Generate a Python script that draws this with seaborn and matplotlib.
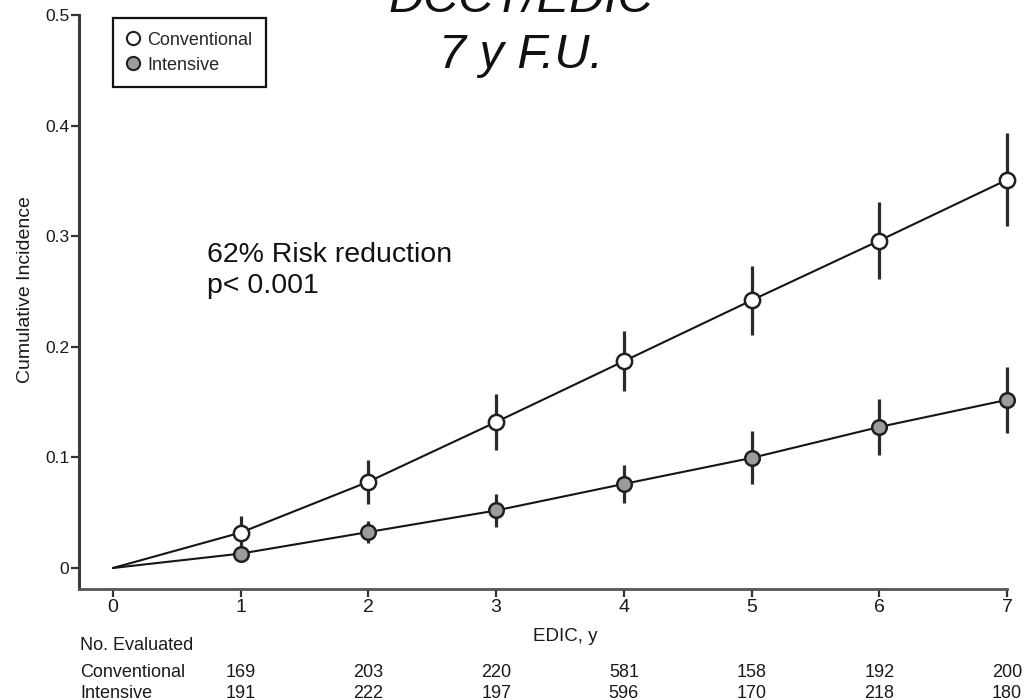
import matplotlib
matplotlib.use("Agg")
import matplotlib.pyplot as plt
import matplotlib.transforms as mtransforms
from matplotlib.lines import Line2D
import pandas as pd
import seaborn as sns

# Cumulative incidence by EDIC year (with +/- error half-widths)
years = [0, 1, 2, 3, 4, 5, 6, 7]
conv_inc = [0.0, 0.032, 0.078, 0.132, 0.187, 0.242, 0.296, 0.351]
conv_err = [0.0, 0.015, 0.020, 0.025, 0.027, 0.031, 0.035, 0.042]
int_inc = [0.0, 0.013, 0.0325, 0.052, 0.076, 0.0995, 0.1275, 0.152]
int_err = [0.0, 0.005, 0.010, 0.015, 0.017, 0.024, 0.025, 0.030]
groups = ["Conventional", "Intensive"]

# Number evaluated at each follow-up year
n_conv = [169, 203, 220, 581, 158, 192, 200]
n_int = [191, 222, 197, 596, 170, 218, 180]

y_ticks = [0, 0.1, 0.2, 0.3, 0.4, 0.5]
y_ticklabels = ["0", "0.1", "0.2", "0.3", "0.4", "0.5"]
x_ticks = [0, 1, 2, 3, 4, 5, 6, 7]

sns.set_style("ticks")
plt.rcParams["font.family"] = ["Liberation Sans", "DejaVu Sans"]

W, H = 1028, 700
fig = plt.figure(figsize=(W / 100, H / 100), dpi=100)
ax = fig.add_axes([79 / W, 1 - 589 / H, (1007 - 79) / W, (589 - 15) / H])

df = pd.DataFrame({
    "year": years * 2,
    "incidence": conv_inc + int_inc,
    "group": [groups[0]] * len(years) + [groups[1]] * len(years),
})
sns.lineplot(data=df, x="year", y="incidence", hue="group",
             palette={groups[0]: "#151515", groups[1]: "#151515"},
             linewidth=1.5, legend=False, ax=ax, clip_on=False, zorder=2)

ink = "#202020"
for inc, err in ((conv_inc, conv_err), (int_inc, int_err)):
    ax.errorbar(years[1:], inc[1:], yerr=err[1:], fmt="none", ecolor="#2a2a2a",
                elinewidth=2.3, capsize=0, clip_on=False, zorder=3)

ax.plot(years[1:], conv_inc[1:], ls="none", marker="o", ms=11, mfc="white",
        mec=ink, mew=1.8, clip_on=False, zorder=4)
ax.plot(years[1:], int_inc[1:], ls="none", marker="o", ms=10.5, mfc="#9c9c9c",
        mec=ink, mew=1.8, clip_on=False, zorder=4)

ax.set_xlim(-0.266, 7.0)
ax.set_ylim(-0.019, 0.5)
ax.set_xticks(x_ticks)
ax.set_xticklabels([str(v) for v in x_ticks], fontsize=14, color="#1a1a1a")
ax.set_yticks(y_ticks)
ax.set_yticklabels(y_ticklabels, fontsize=12.5, color="#1a1a1a")
ax.tick_params(axis="both", direction="out", length=5.5, width=1.6, color="#333333")
ax.tick_params(axis="x", pad=2)
ax.tick_params(axis="y", pad=1.5)

for side in ("top", "right"):
    ax.spines[side].set_visible(False)
ax.spines["left"].set_linewidth(2.2)
ax.spines["left"].set_color("#3a3a3a")
ax.spines["bottom"].set_linewidth(2.0)
ax.spines["bottom"].set_color("#555555")

ax.set_xlabel("")
ax.set_ylabel("Cumulative Incidence", fontsize=14, color="#1a1a1a")
ax.yaxis.set_label_coords((34 - 79) / 928, (589 - 290) / 574)

handles = [
    Line2D([], [], ls="none", marker="o", ms=9.5, mfc="white", mec=ink, mew=1.5,
           label=groups[0]),
    Line2D([], [], ls="none", marker="o", ms=9.5, mfc="#9c9c9c", mec=ink, mew=1.5,
           label=groups[1]),
]
leg = ax.legend(handles=handles, loc="upper left",
                bbox_to_anchor=((113 - 79) / 928, (589 - 18) / 574),
                borderaxespad=0, frameon=True, fancybox=False, framealpha=1,
                edgecolor="#111111", fontsize=13, handlelength=0.7,
                handletextpad=0.45, borderpad=0.75, labelspacing=0.45)
leg.get_frame().set_linewidth(1.6)

# Title block
title_font = dict(family=["Liberation Sans", "DejaVu Sans"], style="italic",
                  fontsize=35, color="#111111", ha="center", va="baseline")
fig.text(521 / W, 1 - 12 / H, "DCCT/EDIC", **title_font)
fig.text(521 / W, 1 - 68 / H, "7 y F.U.", **title_font)

# Annotation
fig.text(207 / W, 1 - 262 / H, "62% Risk reduction", fontsize=20.5,
         color="#111111", ha="left", va="baseline")
fig.text(207 / W, 1 - 293 / H, "p< 0.001", fontsize=20.5,
         color="#111111", ha="left", va="baseline")

# x-axis label
blend = mtransforms.blended_transform_factory(ax.transData, fig.transFigure)
ax.text(3.54, 1 - 641 / H, "EDIC, y", transform=blend, fontsize=13.5,
        color="#1a1a1a", ha="center", va="baseline")

# Numbers-at-risk table
fig.text(80 / W, 1 - 650 / H, "No. Evaluated", fontsize=13, color="#1a1a1a",
         ha="left", va="baseline")
fig.text(80 / W, 1 - 677 / H, groups[0], fontsize=13, color="#1a1a1a",
         ha="left", va="baseline")
fig.text(80 / W, 1 - 698 / H, groups[1], fontsize=13, color="#1a1a1a",
         ha="left", va="baseline")
for yr, nc, ni in zip(years[1:], n_conv, n_int):
    ax.text(yr, 1 - 677 / H, str(nc), transform=blend, fontsize=13,
            color="#1a1a1a", ha="center", va="baseline")
    ax.text(yr, 1 - 698 / H, str(ni), transform=blend, fontsize=13,
            color="#1a1a1a", ha="center", va="baseline")

fig.savefig("out.png", dpi=100)
